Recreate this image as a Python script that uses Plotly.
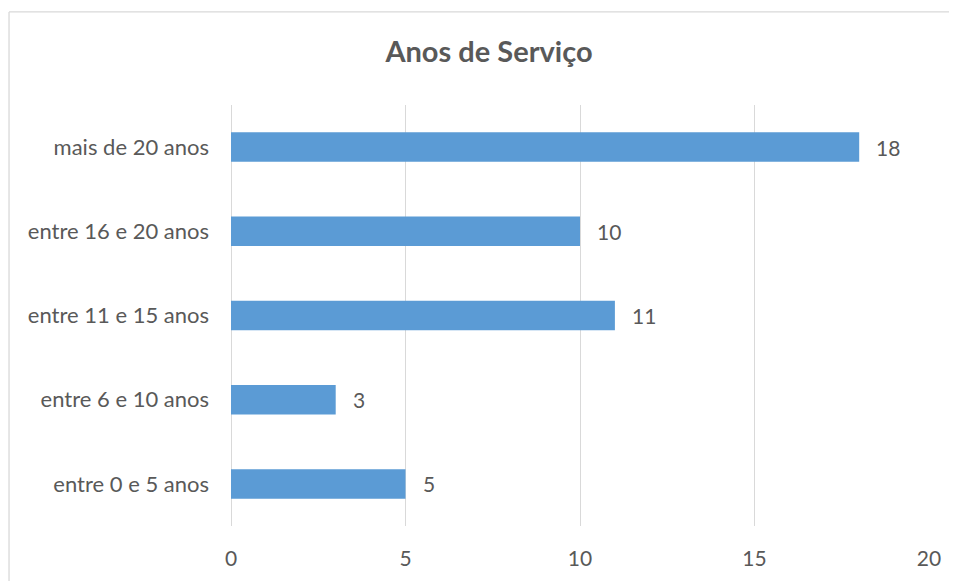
import plotly.graph_objects as go

categories = ["entre 0 e 5 anos", "entre 6 e 10 anos", "entre 11 e 15 anos",
              "entre 16 e 20 anos", "mais de 20 anos"]
values = [5, 3, 11, 10, 18]
x_ticks = [0, 5, 10, 15, 20]
title_text = "Anos de Serviço"

FONT = "Lato, Calibri, Carlito, sans-serif"
TXT = "#595959"
GRID = "#d9d9d9"

W, H = 949, 573  # page body has an 8px margin

fig = go.Figure()
fig.add_trace(go.Bar(
    x=values, y=categories, orientation="h",
    marker=dict(color="#5B9BD5", line=dict(width=0)),
    hoverinfo="x+y",
))

for c, v in zip(categories, values):
    fig.add_annotation(x=v, y=c, text=str(v), showarrow=False,
                       xanchor="left", xshift=15,
                       font=dict(family=FONT, size=21, color=TXT))

# chart-area border (only its left and top edges are inside the frame)
fig.add_shape(type="line", xref="paper", yref="paper",
              x0=-0.318, x1=1.2, y0=1.221, y1=1.221,
              line=dict(color=GRID, width=1.3), layer="below")
fig.add_shape(type="line", xref="paper", yref="paper",
              x0=-0.318, x1=-0.318, y0=-0.3, y1=1.221,
              line=dict(color=GRID, width=1.3), layer="below")

fig.update_layout(
    width=W, height=H,
    margin=dict(l=223, r=28, t=97, b=55, autoexpand=False),
    paper_bgcolor="white", plot_bgcolor="white",
    bargap=0.65,
    showlegend=False,
    title=dict(text="<b>" + title_text + "</b>", x=481 / W, xanchor="center",
               xref="container", y=1 - 44 / H, yref="container", yanchor="middle",
               font=dict(family=FONT, size=29, color=TXT)),
    xaxis=dict(range=[0, 20], tickvals=x_ticks, showgrid=True, gridcolor=GRID,
               gridwidth=1, zeroline=True, zerolinecolor=GRID, zerolinewidth=1,
               showline=False, ticks="", ticklabelstandoff=18, automargin=False,
               tickfont=dict(family=FONT, size=21, color=TXT)),
    yaxis=dict(categoryorder="array", categoryarray=categories,
               showgrid=False, zeroline=False, showline=False, ticks="",
               ticklabelstandoff=21, automargin=False,
               tickfont=dict(family=FONT, size=22, color=TXT)),
)

fig.write_html("out.html")
